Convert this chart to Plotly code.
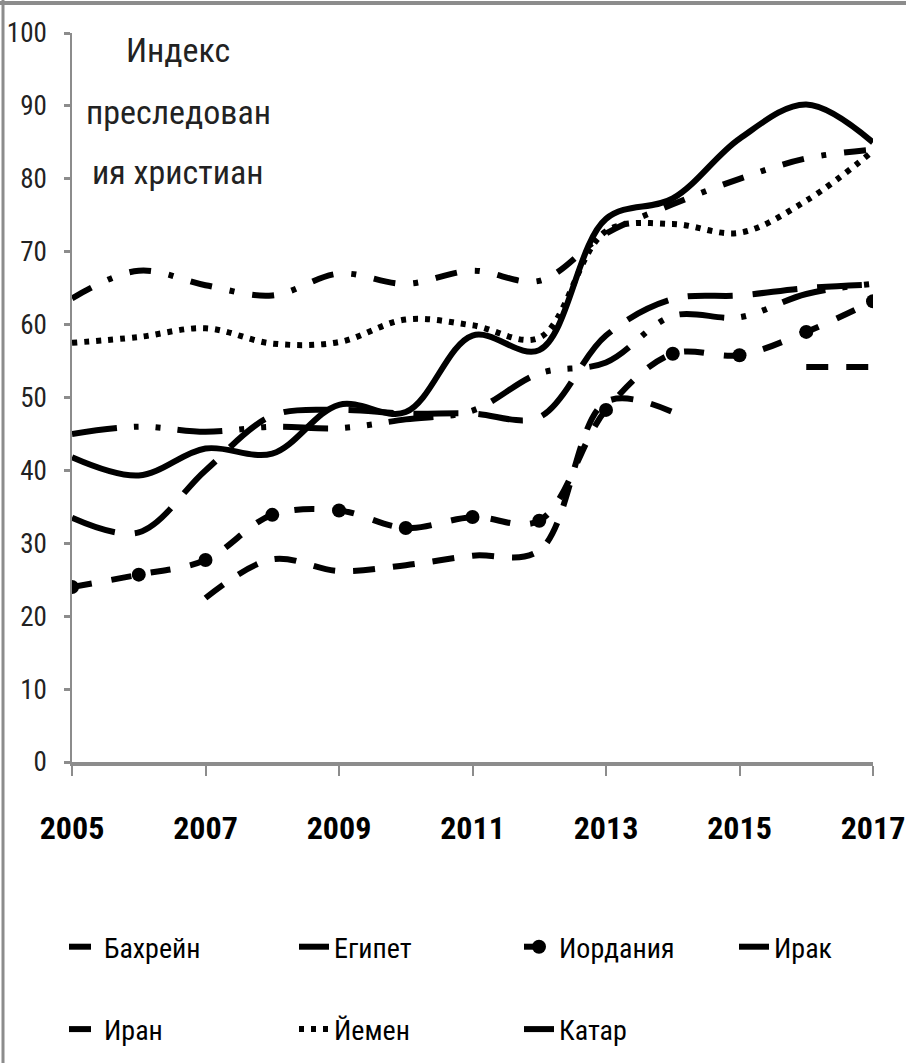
import plotly.graph_objects as go

years = list(range(2005, 2018))
bahrain = [None, None, 22.5, 27.8, 26.2, 27.0, 28.3, 29.0, 49.4, 48.0, None, 54.2, 54.2]
egypt = [33.5, 31.5, 40.0, 47.5, 48.3, 47.8, 47.8, 47.3, 58.5, 63.5, 64.0, 65.0, 65.5]
jordan = [24.0, 25.7, 27.7, 33.9, 34.5, 32.1, 33.6, 33.1, 48.3, 56.0, 55.8, 59.0, 63.2]
iraq = [41.8, 39.3, 43.0, 42.3, 49.0, 48.0, 58.5, 56.5, 74.5, 77.3, 85.5, 90.2, 85.0]
iran = [63.6, 67.4, 65.4, 64.0, 67.0, 65.6, 67.4, 66.0, 72.5, 76.5, 80.0, 82.8, 84.0]
yemen = [57.5, 58.3, 59.5, 57.4, 57.6, 60.7, 59.9, 58.2, 72.8, 73.8, 72.6, 77.0, 83.8]
qatar = [45.0, 46.0, 45.3, 46.0, 45.8, 47.0, 48.2, 53.3, 54.8, 61.2, 61.0, 64.2, 65.6]

names = ["Бахрейн", "Египет", "Иордания", "Ирак", "Иран", "Йемен", "Катар"]
series = [bahrain, egypt, jordan, iraq, iran, yemen, qatar]
dashes = ["22px,18px", "45px,20px", "20px,20px", "solid",
          "22px,18px,5px,18px", "5px,7px", "45px,17px,5px,17px,5px,17px"]
# legend columns (legend box per column, two rows each)
legend_ids = ["legend", "legend2", "legend3", "legend4", "legend", "legend2", "legend3"]

NARROW = "Liberation Sans Narrow, Roboto Condensed, DejaVu Sans Condensed, Arial Narrow, sans-serif"

fig = go.Figure()
for i, (name, vals, d, lg) in enumerate(zip(names, series, dashes, legend_ids)):
    is_j = name == "Иордания"
    fig.add_trace(go.Scatter(
        x=years, y=vals, name=name,
        mode="lines+markers" if is_j else "lines",
        line=dict(color="black", width=6, dash=d, shape="spline", smoothing=1),
        marker=dict(size=14, color="black", symbol="circle"),
        connectgaps=False, legend=lg, legendgroup=name,
    ))

PL, PT, PW, PH = 72, 33, 801, 729


def px_x(px):
    return (px - PL) / PW


def px_y(py):
    return (PT + PH - py) / PH


leg_font = dict(family=NARROW, size=28, color="black")
col_x = [64, 294, 519, 734]
leg_common = dict(orientation="v", yanchor="top", xanchor="left", font=leg_font,
                  bgcolor="rgba(0,0,0,0)", tracegroupgap=43, y=px_y(922))

fig.update_layout(
    width=906, height=1063,
    margin=dict(l=PL, r=906 - PL - PW, t=PT, b=1063 - PT - PH, autoexpand=False),
    paper_bgcolor="white", plot_bgcolor="white",
    font=dict(family=NARROW, color="black"),
    xaxis=dict(range=[2005, 2017], tickmode="linear", tick0=2005, dtick=2,
               showgrid=False, zeroline=False, showline=True, linecolor="#8c8c8c",
               linewidth=4, ticks="outside", ticklen=10, tickwidth=1.5, tickcolor="#8c8c8c",
               tickfont=dict(family=NARROW, size=32, color="black", weight="bold"),
               ticklabelstandoff=25, automargin=False),
    yaxis=dict(range=[0, 100], tickmode="linear", tick0=0, dtick=10,
               showgrid=False, zeroline=False, showline=True, linecolor="#8c8c8c",
               linewidth=1.5, ticks="outside", ticklen=6, tickwidth=3, tickcolor="#8c8c8c",
               tickfont=dict(family=NARROW, size=27, color="#222222"),
               ticklabelstandoff=12, automargin=False),
    legend=dict(x=px_x(col_x[0]), **leg_common),
    legend2=dict(x=px_x(col_x[1]), **leg_common),
    legend3=dict(x=px_x(col_x[2]), **leg_common),
    legend4=dict(x=px_x(col_x[3]), **leg_common),
    showlegend=True,
)

title_lines = ["Индекс", "преследован", "ия христиан"]
title_y = [50, 112, 172]
for t, py in zip(title_lines, title_y):
    fig.add_annotation(text=t, xref="paper", yref="paper",
                       x=px_x(178), y=px_y(py),
                       xanchor="center", yanchor="middle", showarrow=False,
                       font=dict(family=NARROW, size=34, color="#222222"))

# outer frame (top and left edges)
fig.add_shape(type="line", xref="paper", yref="paper",
              x0=px_x(0), x1=px_x(906), y0=px_y(3), y1=px_y(3),
              line=dict(color="#8c8c8c", width=4))
fig.add_shape(type="line", xref="paper", yref="paper",
              x0=px_x(3), x1=px_x(3), y0=px_y(0), y1=px_y(1063),
              line=dict(color="#8c8c8c", width=3))

fig.write_html("out.html", config={"displayModeBar": False},
               post_script="document.body.style.margin='0';document.body.style.padding='0';")
